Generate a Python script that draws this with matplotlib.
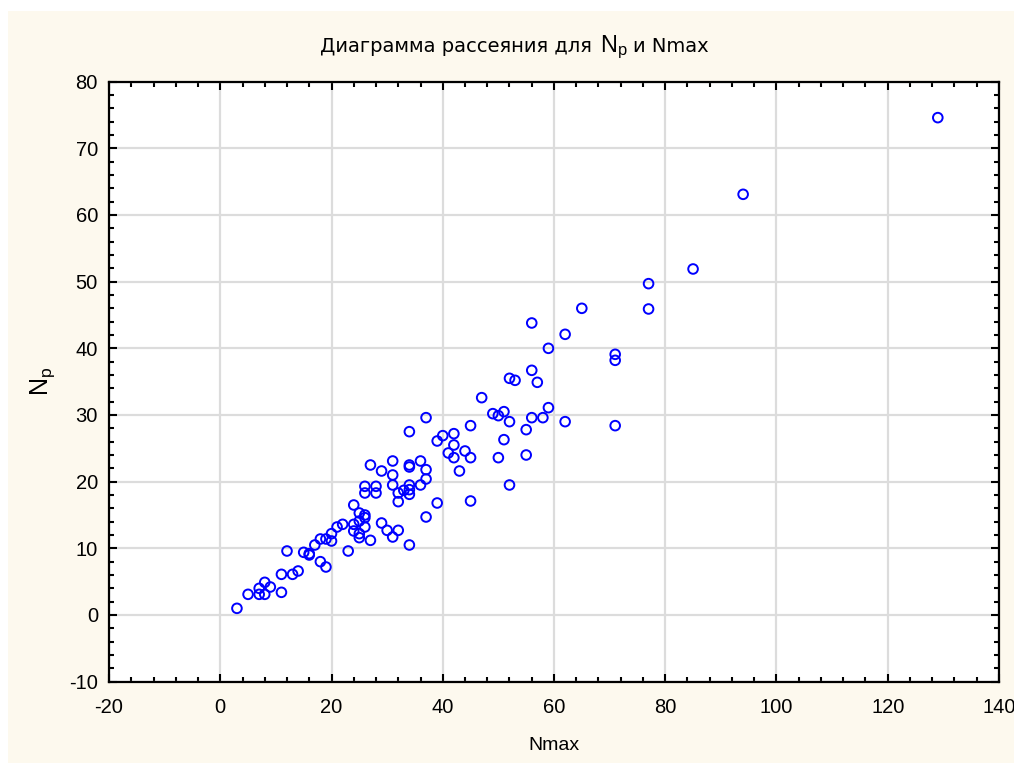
import numpy as np
import matplotlib.pyplot as plt
import matplotlib.transforms as mtransforms
from matplotlib.ticker import MultipleLocator

plt.rcParams['font.family'] = ['Liberation Sans', 'DejaVu Sans']
plt.rcParams['axes.unicode_minus'] = False

# Nmax vs Np values
nmax = [3, 5, 7, 8, 7, 8, 9, 11, 11, 12, 13, 14, 15, 16, 16, 17, 18, 19, 18, 19,
        20, 20, 21, 22, 23, 24, 24, 24, 25, 25, 25, 25, 26, 26, 26, 26, 26, 28, 28, 27,
        29, 30, 31, 31, 32, 32, 32, 33, 34, 34, 34, 34, 36, 37, 39, 37, 34, 39, 27, 29,
        31, 31, 34, 34, 36, 37, 37, 47, 49, 50, 51, 52, 45, 40, 42, 42, 41, 42, 44, 45,
        43, 50, 51, 55, 56, 58, 59, 55, 52, 45, 65, 56, 62, 59, 71, 71, 56, 52, 53, 57,
        62, 71, 129, 94, 85, 77, 77]
np_vals = [1.0, 3.1, 3.1, 3.1, 4.0, 4.9, 4.2, 3.4, 6.1, 9.6, 6.1, 6.6, 9.4, 9.2, 9.0, 10.5, 8.0, 7.2, 11.4, 11.4,
           11.1, 12.2, 13.2, 13.6, 9.6, 16.5, 13.6, 12.6, 15.3, 14.1, 12.2, 11.6, 15.0, 14.6, 13.2, 19.3, 18.3, 19.3, 18.3, 11.2,
           13.8, 12.7, 19.5, 11.7, 12.7, 18.3, 17.0, 18.7, 19.5, 18.8, 18.1, 10.5, 19.5, 14.7, 16.8, 29.6, 27.5, 26.1, 22.5, 21.6,
           23.1, 21.0, 22.5, 22.2, 23.1, 21.8, 20.4, 32.6, 30.2, 29.9, 30.5, 29.0, 28.4, 26.9, 27.2, 25.5, 24.3, 23.6, 24.6, 23.6,
           21.6, 23.6, 26.3, 27.8, 29.6, 29.6, 31.1, 24.0, 19.5, 17.1, 46.0, 43.8, 42.1, 40.0, 39.1, 38.2, 36.7, 35.5, 35.2, 34.9,
           29.0, 28.4, 74.6, 63.1, 51.9, 49.7, 45.9]

fig = plt.figure(figsize=(10.14, 7.63), dpi=100)
fig.patch.set_facecolor('white')
# cream panel behind the chart
bg = plt.Rectangle((8 / 1014, 0), 1, 1 - 11 / 763, transform=fig.transFigure,
                   facecolor='#fdf9ee', edgecolor='none', zorder=-5)
fig.add_artist(bg)

ax = fig.add_axes([0.1075, 0.1066, 0.8777, 0.7864])
ax.set_facecolor('white')
ax.scatter(nmax, np_vals, s=48, facecolors='none', edgecolors='#0000ff', linewidths=1.4, zorder=3)

ax.set_xlim(-20, 140)
ax.set_ylim(-10, 80)
ax.xaxis.set_major_locator(MultipleLocator(20))
ax.xaxis.set_minor_locator(MultipleLocator(4))
ax.yaxis.set_major_locator(MultipleLocator(10))
ax.yaxis.set_minor_locator(MultipleLocator(2))
ax.grid(True, which='major', color='#dcdcdc', linewidth=1.6, zorder=0)
ax.set_axisbelow(True)
ax.tick_params(which='both', direction='in', top=True, right=True, width=1.5, labelsize=14.5)
ax.tick_params(which='major', length=6)
ax.tick_params(which='minor', length=3.5)
ax.tick_params(axis='x', which='major', pad=12)
ax.tick_params(axis='y', which='major', pad=8)
for s in ax.spines.values():
    s.set_linewidth(1.6)

# keep the last x label inside the figure edge
fig.canvas.draw()
last = ax.get_xticklabels()[-1]
last.set_transform(last.get_transform() + mtransforms.ScaledTranslation(-3 / 100, 0, fig.dpi_scale_trans))

ax.set_xlabel('Nmax', fontsize=14, labelpad=14)
ax.set_ylabel(r'$\mathregular{N_p}$', fontsize=18, labelpad=9)

# title with larger N_p part
tfont = ['DejaVu Sans']
fig.text(320 / 1014, 1 - 52 / 763, 'Диаграмма рассеяния для', fontsize=14, family=tfont, va='baseline')
fig.text(600 / 1014, 1 - 52 / 763, r'$\mathregular{N_p}$', fontsize=17, va='baseline')
fig.text(633 / 1014, 1 - 52 / 763, 'и Nmax', fontsize=14, family=tfont, va='baseline')

plt.savefig('out.png', dpi=100, facecolor=fig.get_facecolor())
